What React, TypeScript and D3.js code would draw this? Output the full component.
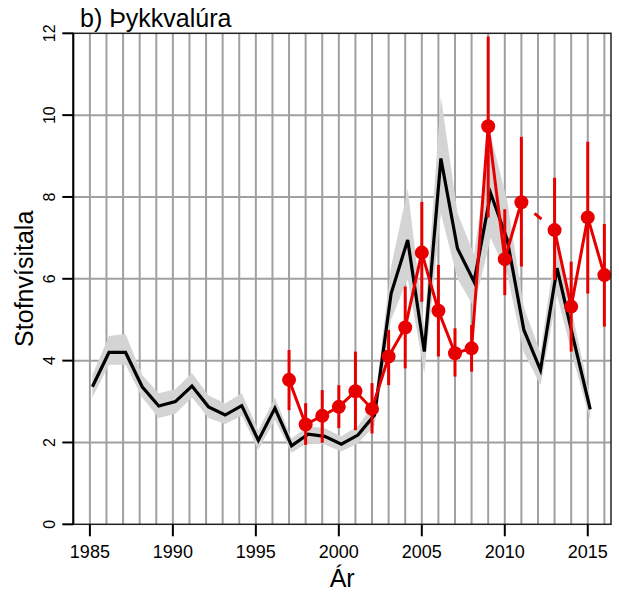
import React from 'react';
import * as d3 from 'd3';

const modelYears = [1985, 1986, 1987, 1988, 1989, 1990, 1991, 1992, 1993, 1994, 1995, 1996, 1997, 1998, 1999, 2000, 2001, 2002, 2003, 2004, 2005, 2006, 2007, 2008, 2009, 2010, 2011, 2012, 2013, 2014, 2015];
const modelIndex = [3.36, 4.2, 4.2, 3.36, 2.89, 3.0, 3.38, 2.87, 2.67, 2.9, 2.05, 2.84, 1.92, 2.2, 2.15, 1.96, 2.18, 2.67, 5.64, 6.95, 4.22, 8.94, 6.74, 5.93, 8.09, 6.95, 4.75, 3.77, 6.26, 4.5, 2.81];
const modelLower = [3.1, 3.9, 3.9, 3.1, 2.6, 2.7, 3.1, 2.6, 2.45, 2.65, 1.82, 2.55, 1.75, 2.0, 1.95, 1.78, 1.98, 2.4, 5.0, 6.0, 3.7, 7.6, 6.0, 5.3, 7.0, 6.1, 4.2, 3.4, 5.6, 4.0, 2.55];
const modelUpper = [3.65, 4.6, 4.65, 3.65, 3.2, 3.3, 3.7, 3.15, 2.95, 3.2, 2.3, 3.1, 2.1, 2.4, 2.35, 2.15, 2.4, 2.95, 6.3, 8.2, 4.8, 10.45, 7.6, 6.6, 9.5, 7.9, 5.3, 4.2, 7.0, 5.0, 3.1];

const surveyYears = [1997, 1998, 1999, 2000, 2001, 2002, 2003, 2004, 2005, 2006, 2007, 2008, 2009, 2010, 2011, 2013, 2014, 2015, 2016];
const surveyIndex = [3.53, 2.44, 2.65, 2.87, 3.25, 2.82, 4.1, 4.81, 6.64, 5.22, 4.18, 4.3, 9.73, 6.48, 7.87, 7.19, 5.32, 7.5, 6.09];
const surveyLower = [2.79, 1.94, 1.99, 2.35, 2.3, 2.22, 3.4, 3.81, 5.44, 4.1, 3.61, 3.73, 7.5, 5.6, 6.3, 5.97, 4.22, 5.64, 4.83];
const surveyUpper = [4.26, 2.96, 3.28, 3.4, 4.22, 3.45, 4.75, 5.81, 7.88, 6.34, 4.79, 4.87, 11.92, 7.7, 9.47, 8.47, 6.42, 9.35, 7.34];

const xTicks = [1985, 1990, 1995, 2000, 2005, 2010, 2015];
const yTicks = [0, 2, 4, 6, 8, 10, 12];
const gridYears = [1985, 1986, 1987, 1988, 1989, 1990, 1991, 1992, 1993, 1994, 1995, 1996, 1997, 1998, 1999, 2000, 2001, 2002, 2003, 2004, 2005, 2006, 2007, 2008, 2009, 2010, 2011, 2012, 2013, 2014, 2015, 2016];
const gridValues = [2, 4, 6, 8, 10];

const titleText = 'b) Þykkvalúra';
const xLabel = 'Ár';
const yLabel = 'Stofnvísitala';

const W = 619;
const H = 592;
const L = 73.3, R = 611, T = 33.3, B = 524.3;
const modelOffset = 0.15;
const RED = '#e60000';
const FONT = '"Liberation Sans", Arial, Helvetica, sans-serif';

export default function App() {
  const x = d3.scaleLinear().domain([1984, 2016.4]).range([L, R]);
  const y = d3.scaleLinear().domain([0, 12]).range([B, T]);

  const model = modelYears.map((yr, i) => ({ yr: yr + modelOffset, v: modelIndex[i], lo: modelLower[i], hi: modelUpper[i] }));
  const area = d3.area<any>().x(d => x(d.yr)).y0(d => y(d.lo)).y1(d => y(d.hi));
  const line = d3.line<any>().x(d => x(d.yr)).y(d => y(d.v));

  const survey = surveyYears.map((yr, i) => ({ yr, v: surveyIndex[i], lo: surveyLower[i], hi: surveyUpper[i] }));
  const segments: any[][] = [];
  survey.forEach((d, i) => {
    if (i === 0 || d.yr - survey[i - 1].yr > 1) segments.push([d]);
    else segments[segments.length - 1].push(d);
  });
  const redLine = d3.line<any>().x(d => x(d.yr)).y(d => y(d.v));
  const gaps: { a: any; b: any }[] = [];
  for (let i = 1; i < segments.length; i++) {
    gaps.push({ a: segments[i - 1][segments[i - 1].length - 1], b: segments[i][0] });
  }

  return (
    <svg width={W} height={H} style={{ position: 'absolute', left: 0, top: 0, background: '#fff' }} fontFamily={FONT}>
      <rect x={0} y={0} width={W} height={H} fill="#fff" />
      {gridYears.map(g => (
        <line key={'gx' + g} x1={x(g)} x2={x(g)} y1={T} y2={B} stroke="#a0a0a0" strokeWidth={2} />
      ))}
      {gridValues.map(g => (
        <line key={'gy' + g} x1={L} x2={R} y1={y(g)} y2={y(g)} stroke="#a0a0a0" strokeWidth={2} />
      ))}
      <path d={area(model) || ''} fill="#d4d4d4" stroke="none" />
      <path d={line(model) || ''} fill="none" stroke="#000" strokeWidth={3.2} strokeLinejoin="miter" />
      {survey.map(d => (
        <line key={'eb' + d.yr} x1={x(d.yr)} x2={x(d.yr)} y1={y(d.lo)} y2={y(d.hi)} stroke={RED} strokeWidth={3} />
      ))}
      {segments.map((s, i) => (
        <path key={'seg' + i} d={redLine(s) || ''} fill="none" stroke={RED} strokeWidth={3} />
      ))}
      {gaps.map((g, i) => {
        const x1 = x(g.a.yr), y1 = y(g.a.v), x2 = x(g.b.yr), y2 = y(g.b.v);
        const len = Math.hypot(x2 - x1, y2 - y1);
        const dash = 9;
        const gap = (len - dash) / 2;
        return (
          <line key={'gap' + i} x1={x1} y1={y1} x2={x2} y2={y2} stroke={RED} strokeWidth={3}
            strokeDasharray={`0 ${gap} ${dash} ${gap + 50}`} />
        );
      })}
      {survey.map(d => (
        <circle key={'pt' + d.yr} cx={x(d.yr)} cy={y(d.v)} r={7} fill={RED} />
      ))}
      <rect x={L} y={T} width={R - L} height={B - T} fill="none" stroke="#222" strokeWidth={1.5} />
      <line x1={L} x2={L} y1={T} y2={B} stroke="#000" strokeWidth={2} />
      {xTicks.map(t => (
        <g key={'xt' + t}>
          <line x1={x(t)} x2={x(t)} y1={B} y2={B + 12} stroke="#000" strokeWidth={2} />
          <text x={x(t)} y={558} textAnchor="middle" fontSize={18}>{t}</text>
        </g>
      ))}
      {yTicks.map(t => (
        <g key={'yt' + t}>
          <line x1={L - 11} x2={L} y1={y(t)} y2={y(t)} stroke="#000" strokeWidth={2} />
          <text transform={`translate(55,${y(t)}) rotate(-90)`} textAnchor="middle" fontSize={16}>{t}</text>
        </g>
      ))}
      <text x={(L + R) / 2} y={587} textAnchor="middle" fontSize={25}>{xLabel}</text>
      <text transform={`translate(33,${(T + B) / 2}) rotate(-90)`} textAnchor="middle" fontSize={25}>{yLabel}</text>
      <text x={80} y={27} fontSize={25}>{titleText}</text>
    </svg>
  );
}
